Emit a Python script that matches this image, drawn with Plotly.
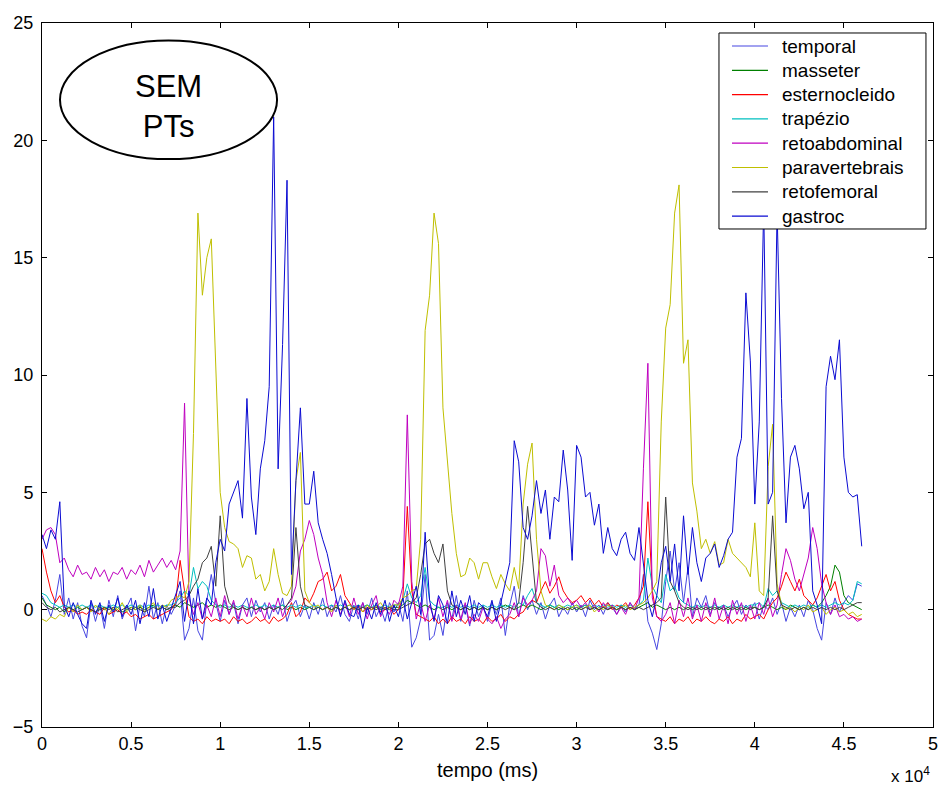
import plotly.graph_objects as go

# Sampling grid of the EMG envelopes (ms)
tempo_ms = list(range(0, 46001, 250))

temporal = [
    0.6, 0.2, -0.3, 0.4, 1.5, -0.2, 0.5, -0.4, 0.3, -0.7,
    -1.2, 0.3, -0.5, 0.2, -0.8, 0.4, -0.3, 0.6, -0.4, 0.1,
    0.5, -0.9, 0.2, -0.3, 1.0, -0.4, 0.3, -0.6, 0.2, -0.2,
    0.2, 0.8, -1.3, -0.8, 0.5, -0.9, -1.3, 0.4, 1.5, 0.3,
    -0.5, 0.4, -0.2, 0.3, -0.6, 0.2, 0.5, -0.3, 0.4, -0.1,
    0.3, -0.4, 0.2, -0.2, 0.5, -0.5, 0.1, 0.4, -0.3, 0.2,
    -0.4, 0.3, -0.2, 0.5, -0.3, 0.2, -0.1, 0.6, -0.2, -0.5,
    0.2, -0.4, 0.3, -0.2, 0.5, -0.3, 0.1, -0.5, 0.3, -0.1,
    0.3, -0.5, 0.8, -1.6, -1.2, -0.4, 1.5, -1.3, -1.1, -0.2,
    -1.1, 0.3, -0.4, 0.6, -0.5, 0.2, -0.7, 0.4, -0.3, 0.2,
    -0.5, 0.3, -0.2, 0.5, -1.1, 0.2, 1.0, -0.3, 0.6, 0.0,
    0.4, -0.2, 0.3, -0.4, 0.2, 0.5, -0.3, 0.1, -0.2, 0.3,
    -0.1, 0.2, -0.3, 0.4, 0.0, 0.2, -0.2, 0.3, 0.1, -0.2,
    0.2, -0.1, 0.3, 0.0, 0.2, 1.5, -0.5, -1.0, -1.7, -0.6,
    1.2, 2.5, 0.8, 2.0, 0.3, 1.8, -0.3, 0.5, 0.1, 0.6,
    -0.2, 0.3, 0.0, 0.2, -0.3, 0.1, 0.4, -0.2, 0.2, 0.0,
    0.3, -0.4, 0.2, 0.0, 0.5, -0.2, 0.3, -0.5, 0.1, -0.3,
    0.2, -0.3, 0.4, 0.0, -0.8, -1.3, 0.3, -0.2, 0.5, -0.1,
    0.3, 0.6, 0.4, 1.1, 1.0,
]

masseter = [
    0.5, 0.2, 0.1, 0.0, 0.1, -0.1, 0.1, 0.0, 0.1, 0.0,
    0.1, 0.0, -0.1, 0.1, 0.0, 0.1, 0.0, 0.1, -0.1, 0.0,
    0.1, 0.0, 0.1, 0.0, 0.1, 0.2, 0.0, 0.1, 0.0, 0.1,
    0.2, 0.1, 0.3, 0.2, 0.1, 0.2, 0.3, 0.1, 0.2, 0.1,
    0.2, 0.1, 0.0, 0.1, 0.0, 0.1, 0.0, 0.1, 0.0, 0.1,
    0.0, 0.1, 0.0, 0.1, 0.2, 0.0, 0.1, 0.0, 0.1, 0.0,
    0.1, 0.0, 0.1, 0.0, 0.1, 0.0, 0.1, 0.0, 0.1, 0.0,
    0.1, 0.0, 0.1, 0.2, 0.0, 0.1, 0.0, 0.1, 0.0, 0.1,
    0.1, 0.2, 0.4, 0.3, 0.2, 0.1, 0.2, 0.1, 0.0, 0.1,
    0.0, 0.1, 0.0, 0.1, 0.0, 0.1, 0.0, 0.1, 0.0, 0.1,
    0.0, 0.1, 0.0, 0.1, 0.2, 0.1, 0.0, 0.1, 0.2, 0.1,
    0.2, 0.1, 0.0, 0.1, 0.2, 0.1, 0.0, 0.1, 0.0, 0.1,
    0.0, 0.1, 0.2, 0.0, 0.1, 0.0, 0.1, 0.0, 0.1, 0.0,
    0.1, 0.0, 0.1, 0.0, 0.1, 0.2, 0.3, 0.1, 0.2, 0.1,
    0.0, 0.1, 0.0, 0.1, 0.0, 0.1, 0.0, 0.1, 0.0, 0.1,
    0.0, 0.1, 0.0, 0.1, 0.0, 0.1, 0.0, 0.1, 0.0, 0.1,
    0.1, 0.0, 0.1, 0.2, 0.1, 0.0, 0.1, 0.0, 0.2, 0.1,
    0.0, 0.1, 0.0, 0.2, 0.1, 0.3, 0.6, 1.0, 1.9, 1.6,
    0.6, 0.3, 0.2, 0.1, 0.0,
]

esternocleido = [
    2.6, 1.6, 0.8, 0.3, 0.6, 0.1, -0.1, 0.0, -0.2, -0.1,
    -0.2, 0.0, -0.1, -0.2, 0.1, -0.2, -0.1, 0.0, -0.2, -0.1,
    -0.3, -0.2, -0.4, -0.3, -0.2, -0.4, -0.3, -0.2, -0.1, 0.0,
    0.3, 2.1, 0.8, -0.3, -0.5, -0.4, -0.6, -0.3, -0.5, -0.4,
    -0.5, -0.4, -0.6, -0.3, -0.5, -0.4, -0.6, -0.5, -0.3, -0.5,
    -0.4, -0.6, -0.3, -0.5, -0.4, -0.2, 0.3, -0.3, -0.1, 0.5,
    0.3, 0.7, 1.2, 1.3, 1.6, 0.8, 1.0, 1.5, 0.6, 0.3,
    0.0, 0.2, -0.1, 0.1, 0.0, 0.2, -0.1, 0.0, 0.1, -0.2,
    0.0, 0.5, 4.4, 0.8, -0.2, -0.3, -0.4, -0.5, -0.3, -0.6,
    -0.4, -0.6, -0.3, -0.5, -0.4, -0.6, -0.3, -0.5, -0.4, -0.6,
    -0.3, -0.5, -0.4, -0.2, -0.5, -0.3, -0.4, -0.2, -0.1, 0.2,
    0.4, 0.3, 0.8, 1.2, 0.7, 1.0, 1.4, 0.8, 0.5, 0.3,
    0.4, 0.6, 0.3, 0.5, 0.2, 0.4, 0.1, 0.3, 0.0, 0.2,
    0.1, 0.3, 0.0, 0.2, 0.5, 1.0, 4.6, 0.8, -0.3, -0.4,
    -0.5, -0.3, -0.6, -0.4, -0.5, -0.3, -0.6, -0.4, -0.5, -0.3,
    -0.5, -0.6, -0.4, -0.5, -0.3, -0.6, -0.4, -0.5, -0.2, -0.4,
    -0.3, -0.2, -0.4, 0.0, 0.3, 0.5, 1.0, 1.6, 1.2, 0.8,
    1.3, 0.6, 0.4, 0.2, 0.5, 1.0, 1.5, 0.8, 1.2, 0.4,
    0.0, -0.2, -0.3, -0.4, -0.4,
]

trapezio = [
    0.7, 0.6, 0.3, 0.2, 0.1, 0.2, 0.1, 0.2, 0.1, 0.2,
    0.1, 0.2, 0.1, 0.2, 0.1, 0.1, 0.2, 0.1, 0.2, 0.1,
    0.2, 0.1, 0.2, 0.1, 0.2, 0.1, 0.2, 0.1, 0.2, 0.2,
    0.3, 0.5, 0.8, 0.6, 1.8, 0.9, 1.2, 1.0, 0.4, 0.2,
    0.1, 0.2, 0.1, 0.2, 0.1, 0.2, 0.1, 0.1, 0.2, 0.1,
    0.2, 0.1, 0.2, 0.1, 0.2, 0.1, 0.2, 0.1, 0.2, 0.1,
    0.1, 0.2, 0.1, 0.2, 0.1, 0.2, 0.1, 0.2, 0.1, 0.2,
    0.1, 0.2, 0.1, 0.2, 0.1, 0.2, 0.1, 0.2, 0.1, 0.2,
    0.2, 0.4, 1.1, 0.5, 0.3, 0.6, 1.8, 0.4, 0.2, 0.1,
    0.1, 0.2, 0.1, 0.2, 0.1, 0.2, 0.1, 0.2, 0.1, 0.2,
    0.1, 0.2, 0.1, 0.2, 0.1, 0.2, 0.1, 0.3, 0.2, 0.6,
    0.9, 0.3, 0.2, 0.1, 0.2, 0.1, 0.2, 0.1, 0.2, 0.1,
    0.2, 0.1, 0.2, 0.1, 0.2, 0.1, 0.2, 0.1, 0.2, 0.1,
    0.2, 0.1, 0.2, 0.1, 0.2, 0.4, 2.2, 1.0, 0.6, 0.3,
    1.5, 0.8, 1.0, 0.5, 0.3, 0.2, 0.1, 0.2, 0.1, 0.2,
    0.1, 0.2, 0.1, 0.2, 0.1, 0.2, 0.1, 0.2, 0.1, 0.2,
    0.2, 0.3, 0.1, 0.9, 0.6, 0.8, 0.3, 0.2, 0.1, 0.2,
    0.1, 0.2, 0.1, 0.2, 0.1, 0.2, 0.1, 0.2, 0.3, 0.2,
    0.3, 0.2, 0.4, 1.2, 1.1,
]

retoabdominal = [
    3.0, 3.4, 3.5, 3.2, 2.0, 2.2, 1.7, 1.4, 1.9, 1.5,
    1.6, 1.3, 1.8, 1.4, 1.7, 1.2, 1.6, 1.5, 1.8, 1.3,
    1.7, 1.5, 1.9, 1.4, 2.1, 1.6, 1.9, 2.2, 1.8, 2.1,
    1.7, 2.5, 8.8, 0.5, -0.2, 0.3, -0.4, 0.2, -0.3, 0.5,
    -0.3, 0.6, -0.2, 0.4, -0.4, 0.2, -0.3, 0.5, -0.2, 0.1,
    -0.4, 0.3, -0.1, 0.5, -0.3, 0.2, 0.4, 1.0, 2.5, 3.0,
    3.8, 3.2, 2.2, 1.5, 0.3, -0.3, 0.4, -0.2, 0.3, -0.3,
    0.5, -0.2, 0.3, -0.4, 0.2, 0.6, -0.3, 0.1, -0.2, 0.4,
    0.2, 1.0, 8.3, 1.2, -0.4, 0.3, -0.5, 0.2, -0.4, 0.5,
    -0.3, 0.4, -0.5, 0.2, -0.4, 0.3, -0.6, -0.2, -0.5, 0.1,
    -0.4, -0.6, -0.3, -0.8, -0.4, -0.2, 0.3, -0.3, 0.5, 0.2,
    0.4, 0.8, 2.6, 2.3, 1.0, 1.9, 0.6, 0.3, 0.5, 0.2,
    0.4, 0.1, 0.3, 0.0, 0.2, -0.1, 0.3, 0.0, 0.2, -0.2,
    0.1, -0.2, 0.3, 0.0, 0.5, 6.0, 10.5, 0.5, -0.3, -0.5,
    -0.2, 0.3, -0.6, 0.4, -0.3, 0.5, -0.4, 0.2, -0.5, 0.3,
    -0.3, 0.5, -0.4, 0.2, -0.6, 0.4, -0.2, 0.3, -0.5, 0.2,
    -0.4, 0.3, -0.2, 0.5, -0.3, 0.2, 1.5, 2.6, 2.1, 1.3,
    0.8, 1.5, 2.2, 3.5, 2.6, 1.1, 0.3, -0.2, 0.2, -0.3,
    -0.2, -0.4, -0.3, -0.5, -0.4,
]

paravertebrais = [
    -0.4, -0.5, -0.3, -0.4, -0.2, -0.3, 0.1, -0.1, 0.2, 0.0,
    0.1, -0.1, 0.2, 0.0, 0.1, -0.2, 0.1, 0.0, 0.3, -0.1,
    0.1, 0.0, 0.2, -0.1, 0.1, 0.3, 0.0, 0.2, 0.1, 0.4,
    0.5, 0.6, 0.5, 1.2, 7.5, 16.9, 13.4, 15.0, 15.8, 10.0,
    5.0, 3.5, 2.9, 2.8, 2.6, 1.8, 2.3, 2.2, 1.3, 1.5,
    0.8, 1.2, 2.6, 1.5, 0.7, 0.6, 1.0, 5.5, 6.7, 0.8,
    0.3, 0.1, 0.2, 0.0, 0.1, -0.1, 0.2, 0.0, 0.1, 0.2,
    0.0, 0.1, -0.1, 0.2, 0.0, 0.1, 0.3, 0.0, 0.1, 0.2,
    0.2, 0.5, 0.6, 0.8, 0.9, 3.0, 11.9, 13.4, 16.9, 15.6,
    8.6, 6.4, 4.1, 2.4, 1.4, 1.5, 2.2, 2.0, 1.3, 2.0,
    2.0, 1.4, 0.9, 1.5, 1.1, 0.8, 1.8, 0.9, 4.5, 6.2,
    7.1, 3.0, 0.8, 0.2, 0.1, 0.0, 0.2, 0.1, 0.0, 0.1,
    0.2, 0.0, 0.1, 0.2, -0.1, 0.1, 0.0, 0.2, 0.1, 0.0,
    0.1, 0.2, 0.0, 0.1, 0.2, 0.3, 0.5, 0.8, 1.2, 8.0,
    12.0, 13.0, 16.9, 18.1, 10.5, 11.5, 5.4, 4.2, 2.6, 3.0,
    2.4, 2.9, 1.9, 2.0, 3.0, 2.4, 2.2, 2.0, 1.8, 1.4,
    3.7, 0.8, 0.6, 6.1, 7.9, 1.1, 0.2, 0.0, 0.1, -0.1,
    0.1, 0.0, 0.2, -0.1, 0.0, 0.1, -0.2, 0.0, 0.1, -0.1,
    0.0, -0.2, -0.1, -0.3, -0.2,
]

retofemoral = [
    0.3, 0.1, 0.0, 0.1, -0.1, 0.0, 0.1, 0.0, -0.1, 0.0,
    0.1, 0.0, -0.1, 0.0, 0.1, 0.0, 0.1, -0.1, 0.0, 0.1,
    0.0, 0.1, 0.0, -0.1, 0.0, 0.1, 0.0, 0.1, 0.0, 0.1,
    0.1, 0.3, 0.4, 0.6, 1.0, 1.3, 2.0, 2.2, 2.7, 1.0,
    4.0, 1.0, 0.3, 0.1, 0.0, 0.1, 0.0, 0.1, 0.0, 0.1,
    0.0, 0.1, 0.0, 0.1, 0.0, 0.2, 0.5, 3.5, 1.0, 0.2,
    0.1, 0.0, 0.1, 0.0, 0.1, 0.0, 0.1, 0.0, 0.1, 0.0,
    0.1, 0.0, 0.1, 0.0, 0.1, 0.0, 0.1, 0.0, 0.1, 0.0,
    0.0, 0.1, 0.2, 0.3, 0.5, 1.5, 2.8, 3.0, 2.4, 2.0,
    2.8, 0.8, 0.2, 0.1, 0.0, 0.1, 0.0, 0.1, 0.0, 0.1,
    0.0, 0.1, 0.0, 0.1, 0.0, 0.1, 0.0, 0.3, 2.0, 4.4,
    2.5, 0.3, 0.1, 0.0, 0.1, 0.0, 0.1, 0.0, 0.1, 0.0,
    0.1, 0.0, 0.1, 0.0, 0.1, 0.0, 0.1, 0.0, 0.1, 0.0,
    0.1, 0.0, 0.1, 0.0, 0.1, 0.0, 0.1, 0.2, 0.3, 0.5,
    4.8, 1.2, 0.8, 0.3, 0.1, 0.0, 0.1, 0.0, 0.1, 0.0,
    0.1, 0.0, 0.1, 0.0, 0.1, 0.0, 0.1, 0.0, 0.1, 0.0,
    0.1, 0.0, 0.1, 0.5, 4.0, 0.8, 0.2, 0.1, 0.0, 0.1,
    0.0, 0.1, 0.0, 0.1, 0.0, 0.1, 0.0, 0.1, 0.0, 0.1,
    0.0, 0.1, 0.2, 0.3, 0.3,
]

gastroc = [
    3.2, 2.6, 3.4, 3.0, 4.6, 0.2, -0.3, 0.3, -0.2, -0.6,
    -0.8, 0.4, -0.2, 0.3, -0.5, 0.2, -0.1, 0.5, -0.3, 0.2,
    -0.2, 0.4, -0.6, 0.3, -0.3, 0.9, -0.4, 0.2, -0.5, 0.1,
    0.6, 1.2, -0.5, 0.8, -0.6, 0.9, -0.4, 0.5, 0.2, 2.0,
    3.0, 2.5, 4.5, 5.0, 5.5, 3.9, 9.0, 4.8, 3.2, 6.0,
    7.2, 9.5, 21.0, 6.0, 11.3, 18.3, 1.5, 5.5, 8.6, 4.5,
    4.5, 5.9, 3.7, 3.0, 2.4, 1.5, 0.5, -0.3, 0.4, -0.2,
    -0.3, 0.2, -0.8, 0.1, -0.4, 0.3, -0.2, 0.4, -0.5, 0.2,
    -0.3, 0.5, -0.4, 0.3, 1.0, -0.2, 3.3, 0.4, -0.5, 0.6,
    0.2, -0.6, 0.8, -0.3, 0.4, -0.2, 0.6, -0.5, 0.3, 0.1,
    -0.3, 0.4, -0.5, 0.3, 1.2, 2.0, 7.2, 6.3, 3.5, 3.0,
    4.0, 5.5, 4.1, 5.1, 3.0, 4.8, 4.6, 6.8, 5.1, 2.1,
    7.0, 6.5, 4.8, 5.0, 3.6, 4.5, 2.4, 3.5, 2.6, 2.3,
    3.0, 3.3, 2.4, 2.1, 3.5, 1.9, 0.4, -0.3, 0.6, 2.0,
    2.7, 1.2, 2.8, 0.8, 4.0, 1.5, 3.5, 2.0, 1.2, 2.2,
    2.4, 2.8, 1.8, 2.3, 3.0, 3.3, 6.5, 7.3, 13.5, 10.6,
    4.5, 8.0, 17.2, 4.5, 5.0, 17.0, 9.0, 3.7, 6.5, 7.0,
    6.0, 4.3, 5.0, 0.8, 0.2, -0.6, 9.5, 10.8, 9.8, 11.5,
    6.5, 5.0, 4.8, 4.9, 2.7,
]

serie_nomes = ["temporal", "masseter", "esternocleido", "trapézio",
               "retoabdominal", "paravertebrais", "retofemoral", "gastroc"]
serie_valores = [temporal, masseter, esternocleido, trapezio,
                 retoabdominal, paravertebrais, retofemoral, gastroc]
serie_cores = ["rgb(70,70,225)", "rgb(0,128,0)", "rgb(255,0,0)", "rgb(0,191,191)",
               "rgb(191,0,191)", "rgb(191,191,0)", "rgb(64,64,64)", "rgb(10,10,210)"]

for nome, vals in zip(serie_nomes, serie_valores):
    if len(vals) != len(tempo_ms):
        raise ValueError(f"{nome}: {len(vals)} valores, esperado {len(tempo_ms)}")

x_ticks = [0, 5000, 10000, 15000, 20000, 25000, 30000, 35000, 40000, 45000, 50000]
x_ticktext = ["0", "0.5", "1", "1.5", "2", "2.5", "3", "3.5", "4", "4.5", "5"]
y_ticks = [-5, 0, 5, 10, 15, 20, 25]

FONT = "Arial, 'Liberation Sans', sans-serif"

fig = go.Figure()
for nome, vals, cor in zip(serie_nomes, serie_valores, serie_cores):
    fig.add_trace(go.Scatter(
        x=tempo_ms, y=vals, mode="lines", name=nome,
        line=dict(color=cor, width=1), showlegend=False,
    ))

# MATLAB-style legend box: white panel, black frame, one row per muscle
leg_x0, leg_x1 = 0.7598, 0.9921
leg_y0, leg_y1 = 0.7074, 0.9858
row_top = 0.9673           # centre of first row (paper units)
row_step = 24.3 / 704.0    # row pitch in paper units
shapes = [
    dict(type="circle", xref="x", yref="y",
         x0=1010, x1=13190, y0=19.2, y1=24.25,
         line=dict(color="black", width=2), fillcolor="white", layer="above"),
    dict(type="rect", xref="paper", yref="paper",
         x0=leg_x0, x1=leg_x1, y0=leg_y0, y1=leg_y1,
         line=dict(color="black", width=1), fillcolor="white", layer="above"),
]
annotations = [
    dict(text="SEM<br>PTs", x=7100, y=21.45, xref="x", yref="y",
         showarrow=False, font=dict(family=FONT, size=31, color="black"),
         align="center"),
    dict(text="tempo (ms)", x=0.5, y=-0.061, xref="paper", yref="paper",
         showarrow=False, xanchor="center", yanchor="middle",
         font=dict(family=FONT, size=20, color="black")),
    dict(text="x 10<sup>4</sup>", x=0.975, y=-0.068, xref="paper", yref="paper",
         showarrow=False, xanchor="center", yanchor="middle",
         font=dict(family=FONT, size=17, color="black")),
]
for k, (nome, cor) in enumerate(zip(serie_nomes, serie_cores)):
    yc = row_top - k * row_step
    shapes.append(dict(type="line", xref="paper", yref="paper",
                       x0=0.7744, x1=0.8148, y0=yc, y1=yc,
                       line=dict(color=cor, width=1.2), layer="above"))
    annotations.append(dict(text=nome, x=0.8283, y=yc, xref="paper", yref="paper",
                            xanchor="left", yanchor="middle", showarrow=False,
                            font=dict(family=FONT, size=19, color="black")))

fig.update_layout(
    width=943, height=789,
    margin=dict(l=42, r=10, t=23, b=62, autoexpand=False),
    paper_bgcolor="white", plot_bgcolor="white",
    font=dict(family=FONT, size=18, color="black"),
    showlegend=False,
    xaxis=dict(
        range=[0, 50000], tickvals=x_ticks, ticktext=x_ticktext,
        ticks="inside", ticklen=5, tickcolor="black",
        showline=True, linecolor="black", linewidth=1, mirror="ticks",
        showgrid=False, zeroline=False, automargin=False,
        tickfont=dict(family=FONT, size=18, color="black"),
    ),
    yaxis=dict(
        range=[-5, 25], tickvals=y_ticks,
        ticks="inside", ticklen=5, tickcolor="black",
        showline=True, linecolor="black", linewidth=1, mirror="ticks",
        showgrid=False, zeroline=False, ticklabelstandoff=4, automargin=False,
        tickfont=dict(family=FONT, size=18, color="black"),
    ),
    shapes=shapes,
    annotations=annotations,
)

fig.write_html("out.html")
